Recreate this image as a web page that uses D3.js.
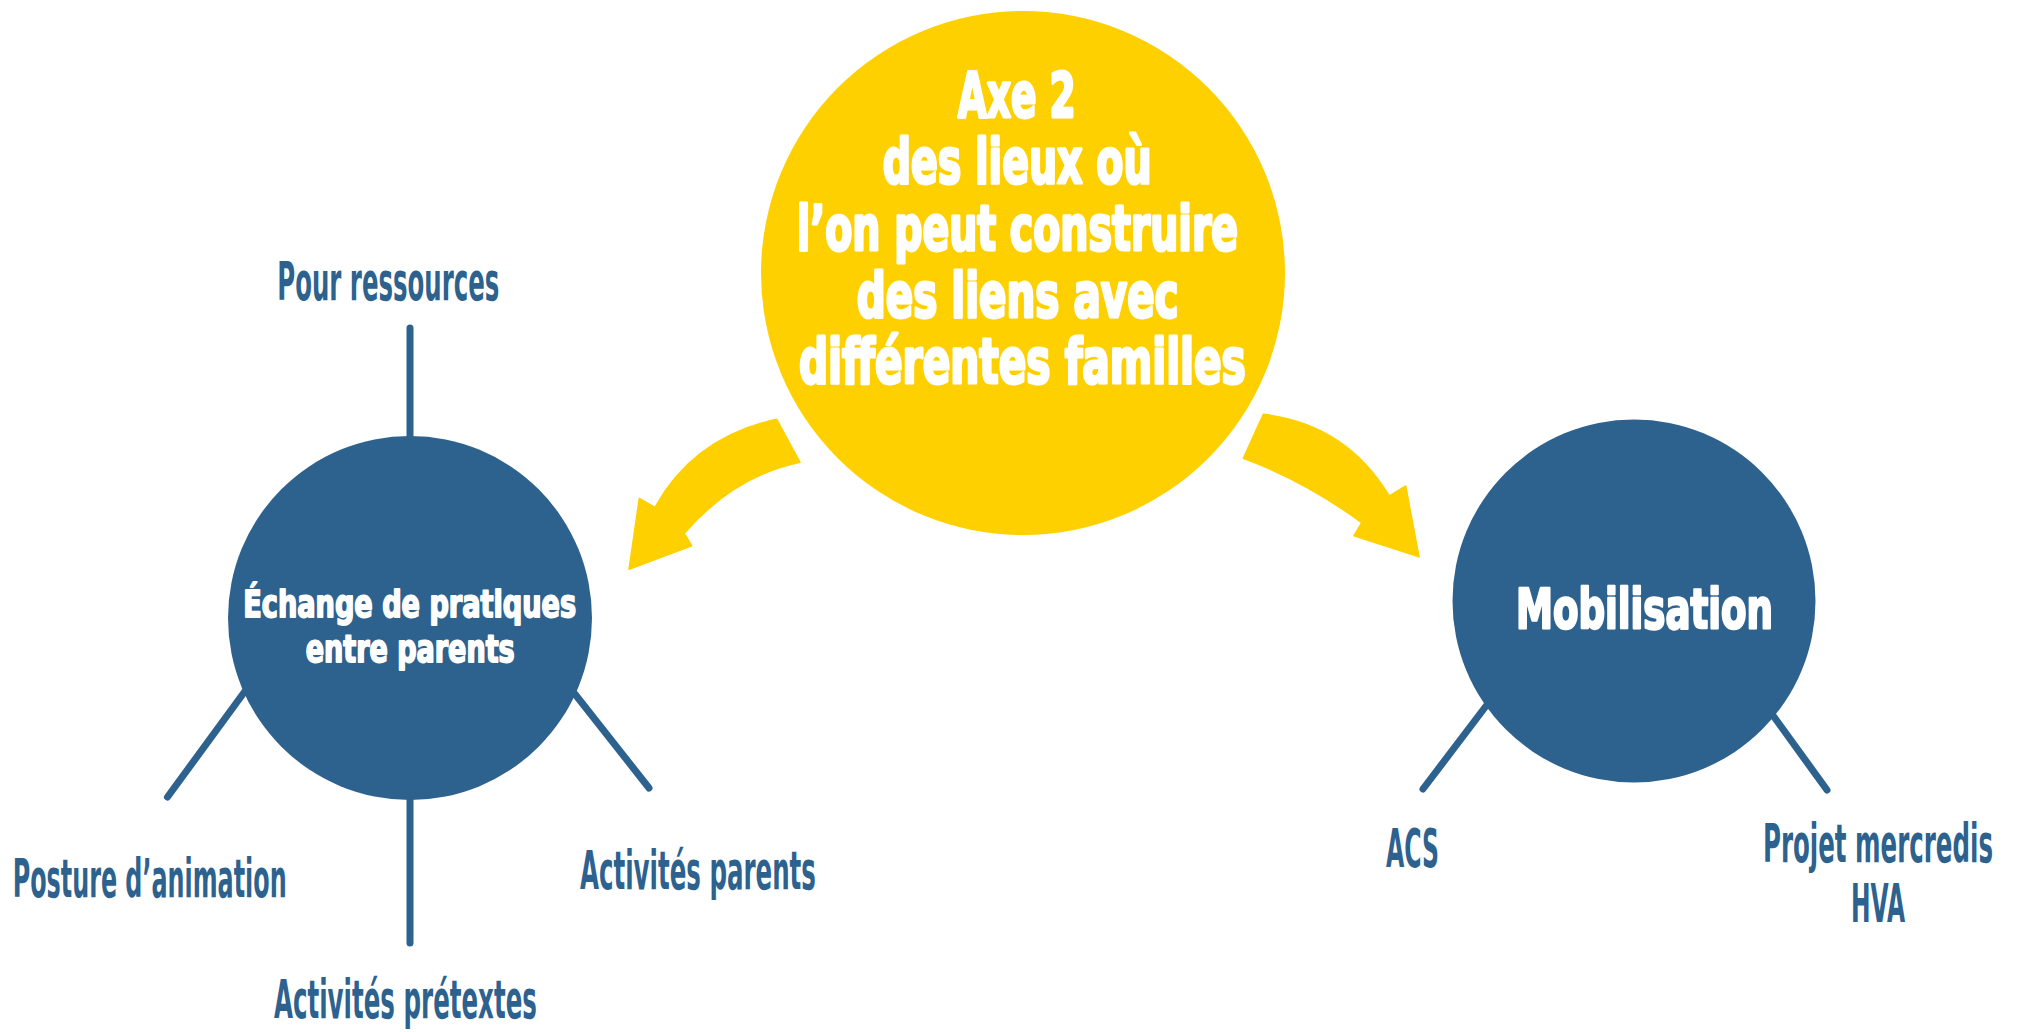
<!DOCTYPE html>
<html>
<head>
<meta charset="utf-8">
<script src="https://cdn.jsdelivr.net/npm/d3@7"></script>
<style>
  html, body { margin: 0; padding: 0; background: #fff; }
  svg { display: block; }
  text { font-family: "DejaVu Sans Condensed", "DejaVu Sans", sans-serif; font-weight: bold; }
</style>
</head>
<body>
<div id="chart"></div>
<script>
// texts of the diagram
const centreLines = ["Axe 2", "des lieux où", "l’on peut construire", "des liens avec", "différentes familles"];
const themeLeft = ["Échange de pratiques", "entre parents"];
const themeRight = ["Mobilisation"];
const branchesLeft = ["Pour ressources", "Posture d’animation", "Activités prétextes", "Activités parents"];
const branchesRight = ["ACS", "Projet mercredis", "HVA"];

const w = 2020;
const h = 1032;
const yellow = "#ffd000";
const blue = "#2d628f";

const svg = d3
  .select("#chart")
  .append("svg")
  .attr("width", w)
  .attr("height", h);

// layout (x of left edge, baseline, width of text)
const centreLayout = [
  [957.7, 116.7, 118],
  [882.7, 183.3, 269],
  [796.7, 250, 441.6],
  [856.7, 316.7, 322],
  [799, 382.7, 447],
];
const themeLeftLayout = [
  [243.3, 616.7, 333],
  [305.7, 661.7, 209],
];
const themeRightLayout = [[1516, 628.3, 257]];
const branchesLeftLayout = [
  [277.3, 300, 222],
  [12.7, 896.7, 274],
  [274, 1018, 263],
  [580, 889.3, 236],
];
const branchesRightLayout = [
  [1386, 867, 53],
  [1763, 861.5, 230],
  [1851, 921.5, 54],
];

// spokes around the two blue circles
const spokes = [
  [[410, 328], [410, 618]],
  [[410, 618], [410, 943]],
  [[167.5, 797], [262, 668]],
  [[649, 788], [556, 670]],
  [[1423, 789], [1505, 681]],
  [[1827, 790], [1756, 692]],
];

svg
  .selectAll("line.spoke")
  .data(spokes)
  .enter()
  .append("line")
  .attr("class", "spoke")
  .attr("x1", (d) => d[0][0])
  .attr("y1", (d) => d[0][1])
  .attr("x2", (d) => d[1][0])
  .attr("y2", (d) => d[1][1])
  .attr("stroke", blue)
  .attr("stroke-width", 7)
  .attr("stroke-linecap", "round");

// circles
const circles = [
  { cx: 1023, cy: 273, r: 262, fill: yellow },
  { cx: 410, cy: 618, r: 182, fill: blue },
  { cx: 1634, cy: 601, r: 181.5, fill: blue },
];

svg
  .selectAll("circle")
  .data(circles)
  .enter()
  .append("circle")
  .attr("cx", (d) => d.cx)
  .attr("cy", (d) => d.cy)
  .attr("r", (d) => d.r)
  .attr("fill", (d) => d.fill);

// curved arrows
function arrowPath(a) {
  const p = d3.path();
  p.moveTo(a.tailOut[0], a.tailOut[1]);
  p.quadraticCurveTo(a.outCtrl[0], a.outCtrl[1], a.headOut[0], a.headOut[1]);
  p.lineTo(a.barbOut[0], a.barbOut[1]);
  p.lineTo(a.tip[0], a.tip[1]);
  p.lineTo(a.barbIn[0], a.barbIn[1]);
  p.lineTo(a.headIn[0], a.headIn[1]);
  p.quadraticCurveTo(a.inCtrl[0], a.inCtrl[1], a.tailIn[0], a.tailIn[1]);
  p.closePath();
  return p.toString();
}

const arrows = [
  {
    tailOut: [776.7, 419.3], outCtrl: [694, 437], headOut: [655, 507.3],
    barbOut: [639.3, 498.3], tip: [629, 569.3], barbIn: [691.7, 545.7],
    headIn: [684.3, 533.3], inCtrl: [734, 476], tailIn: [800, 462.3],
  },
  {
    tailOut: [1263.3, 414.3], outCtrl: [1346, 424], headOut: [1389.3, 496],
    barbOut: [1405.7, 486], tip: [1419, 556.7], barbIn: [1354, 535.7],
    headIn: [1361.7, 522.7], inCtrl: [1305, 481], tailIn: [1243.3, 458.3],
  },
];

svg
  .selectAll("path.arrow")
  .data(arrows)
  .enter()
  .append("path")
  .attr("class", "arrow")
  .attr("d", arrowPath)
  .attr("fill", yellow)
  .attr("stroke", yellow)
  .attr("stroke-width", 1.5)
  .attr("stroke-linejoin", "round");

// text helper: squeeze each line to the measured width
function addTexts(labels, layout, size, color, strokeW) {
  svg
    .append("g")
    .selectAll("text")
    .data(labels)
    .enter()
    .append("text")
    .attr("font-size", size)
    .attr("fill", color)
    .attr("stroke", strokeW ? color : "none")
    .attr("stroke-width", strokeW)
    .attr("stroke-linejoin", "round")
    .text((d) => d)
    .each(function (d, i) {
      const len = this.getComputedTextLength();
      const sx = layout[i][2] / len;
      d3.select(this).attr(
        "transform",
        "translate(" + layout[i][0] + "," + layout[i][1] + ") scale(" + sx + ",1)",
      );
    });
}

addTexts(centreLines, centreLayout, 62, "#fff", 3);
addTexts(themeLeft, themeLeftLayout, 38, "#fff", 1.8);
addTexts(themeRight, themeRightLayout, 56, "#fff", 2.5);
addTexts(branchesLeft, branchesLeftLayout, 53, blue, 0);
addTexts(branchesRight, branchesRightLayout, 53, blue, 0);
</script>
</body>
</html>
